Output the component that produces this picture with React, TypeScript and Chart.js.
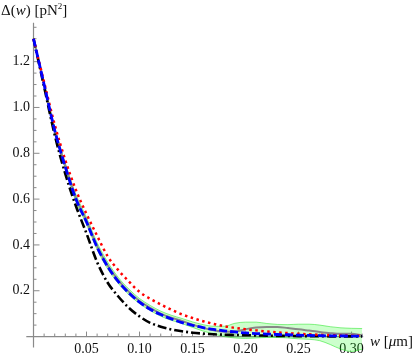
import React, { useEffect, useRef } from 'react';
import { Chart, registerables } from 'chart.js';

Chart.register(...registerables);

// ---- data ----
const W_VALUES = [0, 0.01, 0.02, 0.03, 0.04, 0.05, 0.06, 0.07, 0.08, 0.09, 0.1, 0.11, 0.12, 0.13, 0.14, 0.15, 0.16, 0.17, 0.18, 0.19, 0.2, 0.21, 0.22, 0.23, 0.24, 0.25, 0.26, 0.27, 0.28, 0.29, 0.3, 0.31];

const DATA_MEAN = [1.30, 1.10, 0.90, 0.745, 0.605, 0.505, 0.395, 0.31, 0.245, 0.195, 0.155, 0.125, 0.10, 0.082, 0.068, 0.052, 0.038, 0.028, 0.021, 0.022, 0.032, 0.040, 0.042, 0.042, 0.037, 0.032, 0.026, 0.020, 0.015, 0.012, 0.012, 0.006];
const BAND_UPPER = [1.305, 1.11, 0.912, 0.757, 0.62, 0.52, 0.41, 0.325, 0.258, 0.207, 0.166, 0.136, 0.111, 0.093, 0.079, 0.064, 0.052, 0.045, 0.045, 0.058, 0.063, 0.063, 0.057, 0.053, 0.052, 0.054, 0.054, 0.050, 0.043, 0.038, 0.036, 0.035];
const BAND_LOWER = [1.295, 1.09, 0.888, 0.733, 0.59, 0.49, 0.38, 0.295, 0.232, 0.183, 0.144, 0.114, 0.089, 0.071, 0.057, 0.04, 0.024, 0.011, 0.0, -0.006, -0.008, -0.006, -0.004, -0.004, -0.006, -0.010, -0.012, -0.018, -0.035, -0.055, -0.065, -0.055];
const FIT_BLUE = [1.30, 1.10, 0.90, 0.74, 0.60, 0.50, 0.39, 0.305, 0.24, 0.19, 0.15, 0.119, 0.096, 0.077, 0.061, 0.049, 0.039, 0.031, 0.025, 0.020, 0.016, 0.013, 0.011, 0.009, 0.008, 0.006, 0.005, 0.004, 0.003, 0.003, 0.002, 0.002];
const MODEL_RED = [1.30, 1.11, 0.925, 0.77, 0.64, 0.535, 0.44, 0.35, 0.29, 0.24, 0.195, 0.165, 0.14, 0.117, 0.097, 0.081, 0.067, 0.055, 0.045, 0.038, 0.032, 0.027, 0.022, 0.018, 0.015, 0.012, 0.010, 0.008, 0.006, 0.005, 0.004, 0.003];
const MODEL_BLACK = [1.30, 1.09, 0.88, 0.71, 0.57, 0.45, 0.325, 0.235, 0.175, 0.125, 0.088, 0.060, 0.043, 0.031, 0.023, 0.017, 0.013, 0.010, 0.008, 0.007, 0.006, 0.005, 0.004, 0.003, 0.003, 0.002, 0.002, 0.002, 0.001, 0.001, 0.001, 0.001];

const X_TICKS = [0.05, 0.1, 0.15, 0.2, 0.25, 0.3];
const Y_TICKS = [0.2, 0.4, 0.6, 0.8, 1.0, 1.2];

const X_MIN = -0.0068;
const X_MAX = 0.311;
const Y_MIN = -0.07;
const Y_MAX = 1.37;
const Y_AXIS_BOTTOM = -0.048;

const AXIS_COLOR = '#8a8a8a';
const SERIF = '"Liberation Serif", "Times New Roman", serif';

const pts = (ys: number[]) => W_VALUES.map((w, i) => ({ x: w, y: ys[i] }));

function drawRich(ctx: CanvasRenderingContext2D, x: number, y: number, parts: { t: string; font: string; dy?: number }[]) {
  let cx = x;
  for (const p of parts) {
    ctx.font = p.font;
    ctx.fillText(p.t, cx, y + (p.dy || 0));
    cx += ctx.measureText(p.t).width;
  }
}

const mmaAxes = {
  id: 'mmaAxes',
  beforeDatasetsDraw(chart: any) {
    const { ctx } = chart;
    const xs = chart.scales.x;
    const ys = chart.scales.y;
    const x0 = xs.getPixelForValue(0);
    const y0 = ys.getPixelForValue(0);
    ctx.save();
    ctx.strokeStyle = AXIS_COLOR;
    ctx.lineWidth = 1.2;
    ctx.beginPath();
    ctx.moveTo(xs.getPixelForValue(X_MIN), y0);
    ctx.lineTo(xs.getPixelForValue(X_MAX), y0);
    ctx.moveTo(x0, ys.getPixelForValue(Y_AXIS_BOTTOM));
    ctx.lineTo(x0, ys.getPixelForValue(Y_MAX));
    ctx.stroke();
    ctx.lineWidth = 1;
    ctx.beginPath();
    for (let i = 1; i <= 31; i++) {
      const px = xs.getPixelForValue(i / 100);
      const len = i % 5 === 0 ? 5 : 3;
      ctx.moveTo(px, y0);
      ctx.lineTo(px, y0 - len);
    }
    for (let i = 1; i <= 27; i++) {
      const py = ys.getPixelForValue(i * 0.05);
      const len = i % 4 === 0 ? 6 : 3;
      ctx.moveTo(x0, py);
      ctx.lineTo(x0 + len, py);
    }
    ctx.stroke();
    ctx.restore();
  },
  afterDraw(chart: any) {
    const { ctx } = chart;
    ctx.save();
    ctx.fillStyle = '#111';
    ctx.textBaseline = 'alphabetic';
    ctx.textAlign = 'left';
    drawRich(ctx, 1, 15, [
      { t: 'Δ(', font: `15px ${SERIF}` },
      { t: 'w', font: `italic 15px ${SERIF}` },
      { t: ') [pN', font: `15px ${SERIF}` },
      { t: '2', font: `9px ${SERIF}`, dy: -6.5 },
      { t: ']', font: `15px ${SERIF}` },
    ]);
    drawRich(ctx, 370, 345.5, [
      { t: 'w', font: `italic 15px ${SERIF}` },
      { t: ' [', font: `15px ${SERIF}` },
      { t: 'μ', font: `italic 15px ${SERIF}` },
      { t: 'm]', font: `15px ${SERIF}` },
    ]);
    ctx.restore();
  },
};

export default function App() {
  const ref = useRef<HTMLCanvasElement | null>(null);
  useEffect(() => {
    if (!ref.current) return;
    const common = { pointRadius: 0, fill: false, cubicInterpolationMode: 'monotone' as const };
    const chart = new Chart(ref.current, {
      type: 'line',
      data: {
        datasets: [
          { ...common, label: 'fit', data: pts(FIT_BLUE), borderColor: '#0000ff', borderWidth: 2.8, borderDash: [8, 3] },
          { ...common, label: 'model red', data: pts(MODEL_RED), borderColor: '#ff0000', borderWidth: 2.5, borderDash: [2.5, 3.5] },
          { ...common, label: 'model black', data: pts(MODEL_BLACK), borderColor: '#000000', borderWidth: 2.6, borderDash: [9, 3, 2, 3] },
          { ...common, label: 'data', data: pts(DATA_MEAN), borderColor: '#888888', borderWidth: 2 },
          { ...common, label: 'upper', data: pts(BAND_UPPER), borderColor: 'rgba(40,230,40,0.55)', borderWidth: 1, fill: '+1', backgroundColor: 'rgba(0,255,0,0.2)' },
          { ...common, label: 'lower', data: pts(BAND_LOWER), borderColor: 'rgba(40,230,40,0.55)', borderWidth: 1 },
        ],
      },
      options: {
        animation: false,
        responsive: true,
        maintainAspectRatio: false,
        layout: { padding: { left: 26.3, top: 22.7, right: 51.8, bottom: 2.1 } },
        plugins: { legend: { display: false }, tooltip: { enabled: false }, title: { display: false } },
        events: [],
        scales: {
          x: {
            type: 'linear',
            min: X_MIN,
            max: X_MAX,
            position: { y: 0 } as any,
            border: { display: false },
            grid: { display: false, drawTicks: false },
            afterBuildTicks: (s: any) => { s.ticks = X_TICKS.map((v) => ({ value: v })); },
            ticks: {
              autoSkip: false,
              maxRotation: 0,
              padding: 4.5,
              color: '#111',
              font: { family: SERIF, size: 14 },
              callback: (v: any) => Number(v).toFixed(2),
            },
          },
          y: {
            type: 'linear',
            min: Y_MIN,
            max: Y_MAX,
            position: { x: -0.0033 } as any,
            border: { display: false },
            grid: { display: false, drawTicks: false },
            afterBuildTicks: (s: any) => { s.ticks = Y_TICKS.map((v) => ({ value: v })); },
            ticks: {
              autoSkip: false,
              padding: 0,
              color: '#111',
              font: { family: SERIF, size: 14 },
              callback: (v: any) => Number(v).toFixed(1),
            },
          },
        },
      },
      plugins: [mmaAxes],
    });
    return () => chart.destroy();
  }, []);
  return (
    <div style={{ position: 'fixed', left: 0, top: 0, width: 415, height: 361, background: '#fff' }}>
      <canvas ref={ref} />
    </div>
  );
}
